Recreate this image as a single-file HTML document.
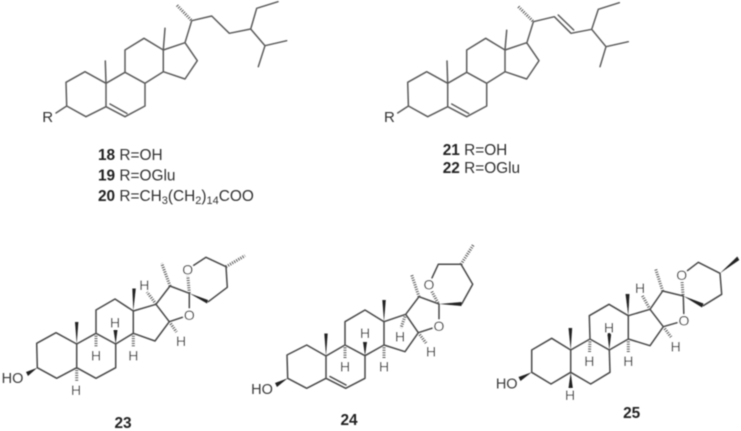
<!DOCTYPE html>
<html><head><meta charset="utf-8">
<style>
html,body{margin:0;padding:0;background:#fff;width:741px;height:431px;overflow:hidden}
svg{display:block}
text{font-family:"Liberation Sans",sans-serif;fill:#333}
.a{font-size:14px;text-anchor:middle;paint-order:stroke;stroke:#fff;stroke-width:2.5px;fill:#3a3a3a}
.l{font-size:15.4px;fill:#333}
.s{font-size:11px;fill:#333}
.n{font-size:15.4px;font-weight:bold;fill:#222}
.b{fill:none;stroke:#5c5c5c;stroke-width:1.5;stroke-linejoin:round;stroke-linecap:round}
.d{fill:none;stroke:#484848;stroke-width:1.5;stroke-linejoin:round;stroke-linecap:round}
.h{fill:none;stroke:#555;stroke-width:3;stroke-dasharray:1 1.4}
.w{fill:#222;stroke:none}
.c{fill:#fff;stroke:none}
</style></head><body>
<svg width="741" height="431" viewBox="0 0 741 431" xmlns="http://www.w3.org/2000/svg">
<defs><filter id="f" x="-2%" y="-2%" width="104%" height="104%"><feGaussianBlur stdDeviation="0.45"/></filter></defs>
<g filter="url(#f)">

<!-- 18 -->
<path class="b" d="M66.7 106L66 82.3L85 71.7L106 83.3L106 106.7L86 116.7L66.7 106M106 106.7L125 116.7L145 106L145 83.3L125 72.3L106 83.3M125 72.3L125 50L144 38.3L163.3 50L163.3 71.7L145 83.3M163.3 71.7L185 79L197.3 60.7L185 42.7L163.3 50M110 104L127 113.5M106 83.3L105.3 61M163.3 50L165 28.3M185 42.7L191.7 20.7L211.7 16L229.3 33.3L250.7 29L256.7 8.3L278 1.7M250.7 29L265 45.7L286.7 40.7M265 45.7L258.3 66.7M66.7 106L56 113"/>
<line class="h" x1="191" y1="20" x2="176.7" y2="5"/>
<text class="l" x="42.2" y="122" style="font-size:15px">R</text>
<text x="98" y="160"><tspan class="n">18</tspan><tspan class="l"> R=OH</tspan></text>
<text x="98" y="180.5"><tspan class="n">19</tspan><tspan class="l"> R=OGlu</tspan></text>
<text x="98" y="201"><tspan class="n">20</tspan><tspan class="l"> R=CH</tspan><tspan class="s" dy="3">3</tspan><tspan class="l" dy="-3">(CH</tspan><tspan class="s" dy="3">2</tspan><tspan class="l" dy="-3">)</tspan><tspan class="s" dy="3">14</tspan><tspan class="l" dy="-3">COO</tspan></text>

<!-- 21 -->
<g transform="translate(341.7,0)">
<path class="b" d="M66.7 106L66 82.3L85 71.7L106 83.3L106 106.7L86 116.7L66.7 106M106 106.7L125 116.7L145 106L145 83.3L125 72.3L106 83.3M125 72.3L125 50L144 38.3L163.3 50L163.3 71.7L145 83.3M163.3 71.7L185 79L197.3 60.7L185 42.7L163.3 50M110 104L127 113.5M106 83.3L105.3 61M163.3 50L165 30.3M185 43.3L191.7 21.7L212.6 16.7L229.3 33.3L250 29.3L256.6 9.3L277.6 2.7M250 29.3L264.3 46.7L286.6 41.7M264.3 46.7L258.3 66.7M66.7 106L56 113M216.5 15L232 30"/>
<line class="h" x1="191" y1="21" x2="176" y2="6"/>
</g>
<text class="l" x="384" y="122" style="font-size:15px">R</text>
<text x="442.7" y="155"><tspan class="n">21</tspan><tspan class="l"> R=OH</tspan></text>
<text x="442.7" y="173"><tspan class="n">22</tspan><tspan class="l"> R=OGlu</tspan></text>

<!-- 23 -->
<path class="d" d="M37.3 367.7L36.7 343.3L56 332.7L76.7 344L76.7 367.7L56.7 378.3L37.3 367.7M76.7 367.7L96 378.3L115.7 367.7L115.7 344L96 333.3L76.7 344M96 333.3L96 310L115 299L133.3 311L133.3 333.3L115.7 344M133.3 333.3L155 341L169.3 321.7L156 304.3L133.3 311M156 304.3L170 286L189.3 293.3L189.3 315L169.3 321.7M208.3 301.7L227.3 287.3L226 266.7L206 257.3L187.7 269.3"/>
<polygon class="w" points="189.3,293.3 208,300 207,303.5"/>
<line class="h" x1="189.3" y1="293" x2="187.7" y2="275"/>
<polygon class="w" points="37.3,367.7 26,372 28,376"/>
<polygon class="w" points="76.7,344 75,322 78.4,322"/>
<polygon class="w" points="133.3,311 132.3,288.5 135.8,288.5"/>
<polygon class="w" points="115.7,344 113.5,330 117.5,330"/>
<line class="h" x1="170" y1="286" x2="161.7" y2="263.3"/>
<line class="h" x1="226" y1="266.7" x2="245" y2="255.7"/>
<line class="h" x1="156" y1="304" x2="147" y2="292"/>
<line class="h" x1="96" y1="333.3" x2="96" y2="347"/>
<line class="h" x1="133.3" y1="333.3" x2="133.3" y2="347"/>
<line class="h" x1="76.7" y1="367.7" x2="76.7" y2="381"/>
<line class="h" x1="169.3" y1="321.7" x2="176.5" y2="332"/>
<text class="a" x="12.5" y="383" style="stroke:none;font-size:14.5px">HO</text>
<circle class="c" cx="187.7" cy="269.5" r="6.5"/><circle class="c" cx="189.3" cy="315" r="6.5"/>
<text class="a" x="187.7" y="274.5">O</text>
<text class="a" x="189.3" y="320">O</text>
<text class="a" x="115" y="327.7">H</text>
<text class="a" x="96" y="360.7">H</text>
<text class="a" x="133.3" y="360.7">H</text>
<text class="a" x="76" y="395">H</text>
<text class="a" x="144.3" y="290">H</text>
<text class="a" x="181" y="346">H</text>
<text class="n" x="123" y="428" text-anchor="middle">23</text>

<!-- 24 -->
<path class="d" d="M287.7 378.3L287 355L306.7 345L326 356L326 378.3L306.7 388.3L287.7 378.3M326 378.3L345.7 388.3L365 378.3L365 355.7L345 345L326 356M345 345L345 321.7L365 310L384 321.7L384 345L365 355.7M384 345L405 351.7L418.3 332.7L405.7 314.3L384 321.7M405.7 314.3L419 296.7L439 304L439 326L418.3 332.7M461.7 304L472.7 284.3L461 264.3L438.3 264.3L429 284.3M330 376.5L346 385"/>
<polygon class="w" points="439,304 461.5,302 461.5,306"/>
<line class="h" x1="438" y1="303" x2="431" y2="290"/>
<polygon class="w" points="287.7,378.3 275,383 277,387"/>
<polygon class="w" points="326,356 324.3,333.5 327.7,333.5"/>
<polygon class="w" points="384,321.7 382.3,300 385.8,300"/>
<polygon class="w" points="365,355.7 363,342 367,342"/>
<line class="h" x1="419" y1="296.7" x2="411.7" y2="275"/>
<line class="h" x1="461" y1="264.3" x2="473.3" y2="245"/>
<line class="h" x1="405.7" y1="314.3" x2="401" y2="328"/>
<line class="h" x1="345" y1="345" x2="345" y2="358"/>
<line class="h" x1="384" y1="345" x2="384" y2="358"/>
<line class="h" x1="418.3" y1="332.7" x2="426" y2="343"/>
<text class="a" x="262" y="394" style="stroke:none;font-size:14.5px">HO</text>
<circle class="c" cx="429" cy="284.5" r="6.5"/><circle class="c" cx="439" cy="326" r="6.5"/>
<text class="a" x="429" y="289.5">O</text>
<text class="a" x="439" y="331">O</text>
<text class="a" x="365" y="338">H</text>
<text class="a" x="345" y="371.7">H</text>
<text class="a" x="384" y="371.7">H</text>
<text class="a" x="400" y="341.7">H</text>
<text class="a" x="431" y="356.7">H</text>
<text class="n" x="349" y="425" text-anchor="middle">24</text>

<!-- 25 -->
<path class="d" d="M531.7 372.3L531.7 350L551.7 338.3L570.7 350L570.7 372.3L551 384L531.7 372.3M570.7 372.3L590.7 384L610 372.3L609.3 350L590 339L570.7 350M590 339L589.3 315.7L609 304.3L628.3 315.7L628.3 339L609.3 350M628.3 339L650 345.7L663.3 326.7L650 309.3L628.3 315.7M650 309.3L662.7 291L683.3 296L684 320.7L663.3 326.7M703.3 305.7L721.7 294.3L720 273.3L698.3 262.3L681.7 275"/>
<polygon class="w" points="683.3,296 703.5,303.5 702,307.5"/>
<line class="h" x1="683" y1="295" x2="682" y2="281"/>
<polygon class="w" points="531.7,372.3 518.5,377 520.5,381"/>
<polygon class="w" points="570.7,350 568.5,328 572.2,328"/>
<polygon class="w" points="628.3,315.7 625.5,294 629.5,294"/>
<polygon class="w" points="609.3,350 607.3,333 611.3,333"/>
<polygon class="w" points="570.7,372.3 568.5,388 572.8,388"/>
<polygon class="w" points="720,273.3 737.3,256.5 739.3,260"/>
<line class="h" x1="662.7" y1="291" x2="655.7" y2="269.3"/>
<line class="h" x1="650" y1="309.3" x2="642" y2="295"/>
<line class="h" x1="590" y1="339" x2="589.5" y2="352"/>
<line class="h" x1="628.3" y1="339" x2="628.3" y2="352"/>
<line class="h" x1="663.3" y1="326.7" x2="671" y2="337"/>
<text class="a" x="506.7" y="388.5" style="stroke:none;font-size:14.5px">HO</text>
<circle class="c" cx="681.7" cy="275" r="6.5"/><circle class="c" cx="684" cy="320.7" r="6.5"/>
<text class="a" x="681.7" y="280">O</text>
<text class="a" x="684" y="325.7">O</text>
<text class="a" x="609" y="332.7">H</text>
<text class="a" x="589.3" y="366">H</text>
<text class="a" x="628.3" y="366">H</text>
<text class="a" x="570" y="400">H</text>
<text class="a" x="640" y="293.2">H</text>
<text class="a" x="675.7" y="351.7">H</text>
<text class="n" x="631.7" y="418" text-anchor="middle">25</text>

</g>
</svg>
</body></html>
